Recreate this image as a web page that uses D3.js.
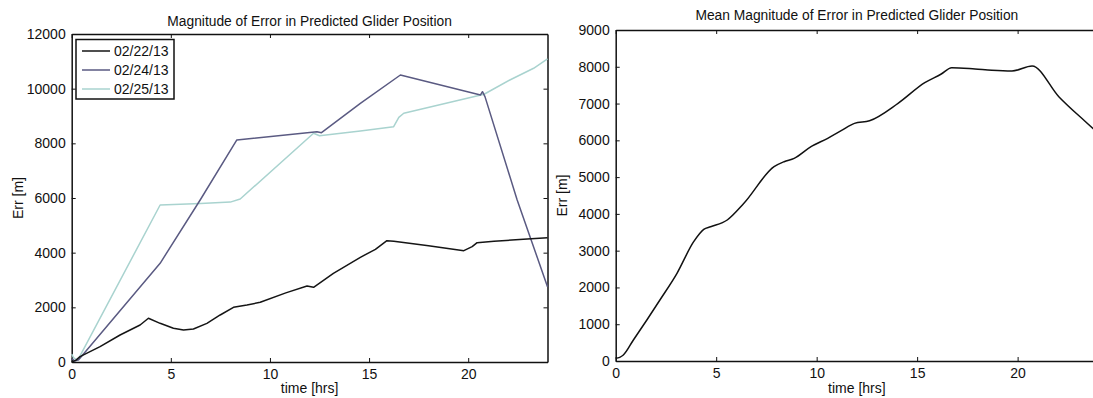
<!DOCTYPE html>
<html>
<head>
<meta charset="utf-8">
<script src="https://cdn.jsdelivr.net/npm/d3@7"></script>
<style>
body { margin: 0; background: #fff; }
svg { display: block; font-family: "Liberation Sans", Arial, Helvetica, sans-serif; }
</style>
</head>
<body>
<script>
var seriesNames = ["02/22/13", "02/24/13", "02/25/13"];
var seriesColors = ["#151515", "#5a5a82", "#a9d3cf"];

var hours22 = [0, 0.2, 0.42, 1.43, 2.44, 3.45, 3.87, 4.46, 5.13, 5.64, 6.14, 6.82, 7.49, 8.16, 8.84, 9.51, 10.8, 11.87, 12.2, 13.2, 14.56, 15.32, 15.9, 16.25, 18.0, 19.78, 20.2, 20.45, 21.3, 22.98, 24];
var err22 = [0, 60, 194, 560, 988, 1354, 1600, 1415, 1232, 1170, 1207, 1415, 1720, 2000, 2085, 2184, 2530, 2780, 2733, 3245, 3830, 4123, 4440, 4415, 4250, 4073, 4220, 4366, 4415, 4500, 4550];

var hours24 = [0, 0.15, 0.35, 4.46, 6.48, 8.33, 12.37, 12.6, 14.56, 16.58, 20.62, 20.72, 20.85, 22.47, 24];
var err24 = [120, 40, 80, 3611, 5927, 8123, 8427, 8390, 9465, 10500, 9769, 9890, 9700, 5927, 2755];

var hours25 = [0, 0.1, 0.3, 4.46, 6.5, 8.0, 8.5, 12.2, 12.5, 14.56, 16.24, 16.5, 16.75, 20.8, 22.1, 23.3, 24];
var err25 = [290, 150, 60, 5744, 5800, 5850, 5964, 8368, 8280, 8452, 8610, 8950, 9100, 9795, 10318, 10746, 11087];

var hoursMean = [0, 0.2, 0.38, 0.88, 1.55, 2.2, 3.05, 3.88, 4.38, 4.72, 5.55, 6.38, 7.88, 8.38, 8.88, 9.72, 10.55, 11.22, 11.88, 12.63, 14.05, 15.38, 16.2, 16.72, 17.88, 18.72, 19.72, 20.72, 22.05, 23.38, 24];
var errMean = [73, 100, 163, 571, 1115, 1658, 2384, 3244, 3580, 3651, 3834, 4288, 5283, 5419, 5510, 5827, 6055, 6262, 6462, 6533, 7006, 7567, 7803, 7975, 7939, 7904, 7885, 8021, 7186, 6506, 6200];

var xTicks = [0, 5, 10, 15, 20];
var yTicksLeft = [0, 2000, 4000, 6000, 8000, 10000, 12000];
var yTicksRight = [0, 1000, 2000, 3000, 4000, 5000, 6000, 7000, 8000, 9000];

var svg = d3.select("body").append("svg")
	.attr("width", 1093)
	.attr("height", 398);

function zip(t, v){
	return t.map(function(d, i){ return [d, v[i]]; });
}

// draws one matlab style box with inward ticks on every side
function makePanel(box, ymax, yticks, title, titleY){
	var x = d3.scaleLinear().domain([0, 24]).range([box.left, box.right]);
	var y = d3.scaleLinear().domain([0, ymax]).range([box.bottom, box.top]);
	var g = svg.append("g");
	var tick = 4;

	g.append("g").attr("transform", "translate(0," + box.bottom + ")")
		.call(d3.axisBottom(x).tickValues(xTicks).tickSizeInner(-tick).tickSizeOuter(0).tickPadding(7).tickFormat(d3.format("d")));
	g.append("g").attr("transform", "translate(0," + box.top + ")")
		.call(d3.axisTop(x).tickValues(xTicks).tickSizeInner(-tick).tickSizeOuter(0).tickFormat(""));
	g.append("g").attr("transform", "translate(" + box.left + ",0)")
		.call(d3.axisLeft(y).tickValues(yticks).tickSizeInner(-tick).tickSizeOuter(0).tickPadding(6).tickFormat(d3.format("d")));
	g.append("g").attr("transform", "translate(" + box.right + ",0)")
		.call(d3.axisRight(y).tickValues(yticks).tickSizeInner(-tick).tickSizeOuter(0).tickFormat(""));

	g.selectAll(".domain").attr("stroke", "#111").attr("stroke-width", 1.5);
	g.selectAll(".tick line").attr("stroke", "#111").attr("stroke-width", 1);
	g.selectAll(".tick text").attr("fill", "#111").style("font-size", "14px");

	svg.append("text")
		.attr("x", (box.left + box.right) / 2)
		.attr("y", titleY)
		.attr("text-anchor", "middle")
		.style("font-size", "13.8px")
		.attr("fill", "#111")
		.text(title);
	svg.append("text")
		.attr("x", (box.left + box.right) / 2)
		.attr("y", 393)
		.attr("text-anchor", "middle")
		.style("font-size", "14px")
		.attr("fill", "#111")
		.text("time [hrs]");
	svg.append("text")
		.attr("transform", "translate(" + (box.left - 49) + "," + ((box.top + box.bottom) / 2) + ") rotate(-90)")
		.attr("text-anchor", "middle")
		.style("font-size", "14px")
		.attr("fill", "#111")
		.text("Err [m]");

	return {x: x, y: y, g: g};
}

var left = makePanel({left: 71.7, right: 547.5, top: 34, bottom: 362}, 12000, yTicksLeft,
	"Magnitude of Error in Predicted Glider Position", 26);
// right box runs past the page edge in the original
var right = makePanel({left: 615.7, right: 1098, top: 30, bottom: 361}, 9000, yTicksRight,
	"Mean Magnitude of Error in Predicted Glider Position", 20);

var leftLine = d3.line()
	.x(function(d){ return left.x(d[0]); })
	.y(function(d){ return left.y(d[1]); });

var leftData = [zip(hours22, err22), zip(hours24, err24), zip(hours25, err25)];
// draw light line first so darker ones sit on top
[2, 1, 0].forEach(function(i){
	svg.append("path")
		.attr("d", leftLine(leftData[i]))
		.attr("fill", "none")
		.attr("stroke", seriesColors[i])
		.attr("stroke-width", 1.5)
		.attr("stroke-linejoin", "round");
});

var rightLine = d3.line()
	.curve(d3.curveMonotoneX)
	.x(function(d){ return right.x(d[0]); })
	.y(function(d){ return right.y(d[1]); });

svg.append("path")
	.attr("d", rightLine(zip(hoursMean, errMean)))
	.attr("fill", "none")
	.attr("stroke", "#111")
	.attr("stroke-width", 1.5)
	.attr("stroke-linejoin", "round");

// legend
var legend = svg.append("g");
legend.append("rect")
	.attr("x", 76).attr("y", 39.5)
	.attr("width", 98).attr("height", 59.5)
	.attr("fill", "#fff")
	.attr("stroke", "#111")
	.attr("stroke-width", 1.5);
var rows = legend.selectAll("g.row")
	.data(seriesNames)
	.enter()
	.append("g")
	.attr("class", "row")
	.attr("transform", function(d, i){ return "translate(0," + (51 + i * 19) + ")"; });
rows.append("line")
	.attr("x1", 82).attr("x2", 110)
	.attr("y1", 0).attr("y2", 0)
	.attr("stroke", function(d, i){ return seriesColors[i]; })
	.attr("stroke-width", 1.5);
rows.append("text")
	.attr("x", 114)
	.attr("y", 5)
	.style("font-size", "14px")
	.attr("fill", "#111")
	.text(function(d){ return d; });
</script>
</body>
</html>
